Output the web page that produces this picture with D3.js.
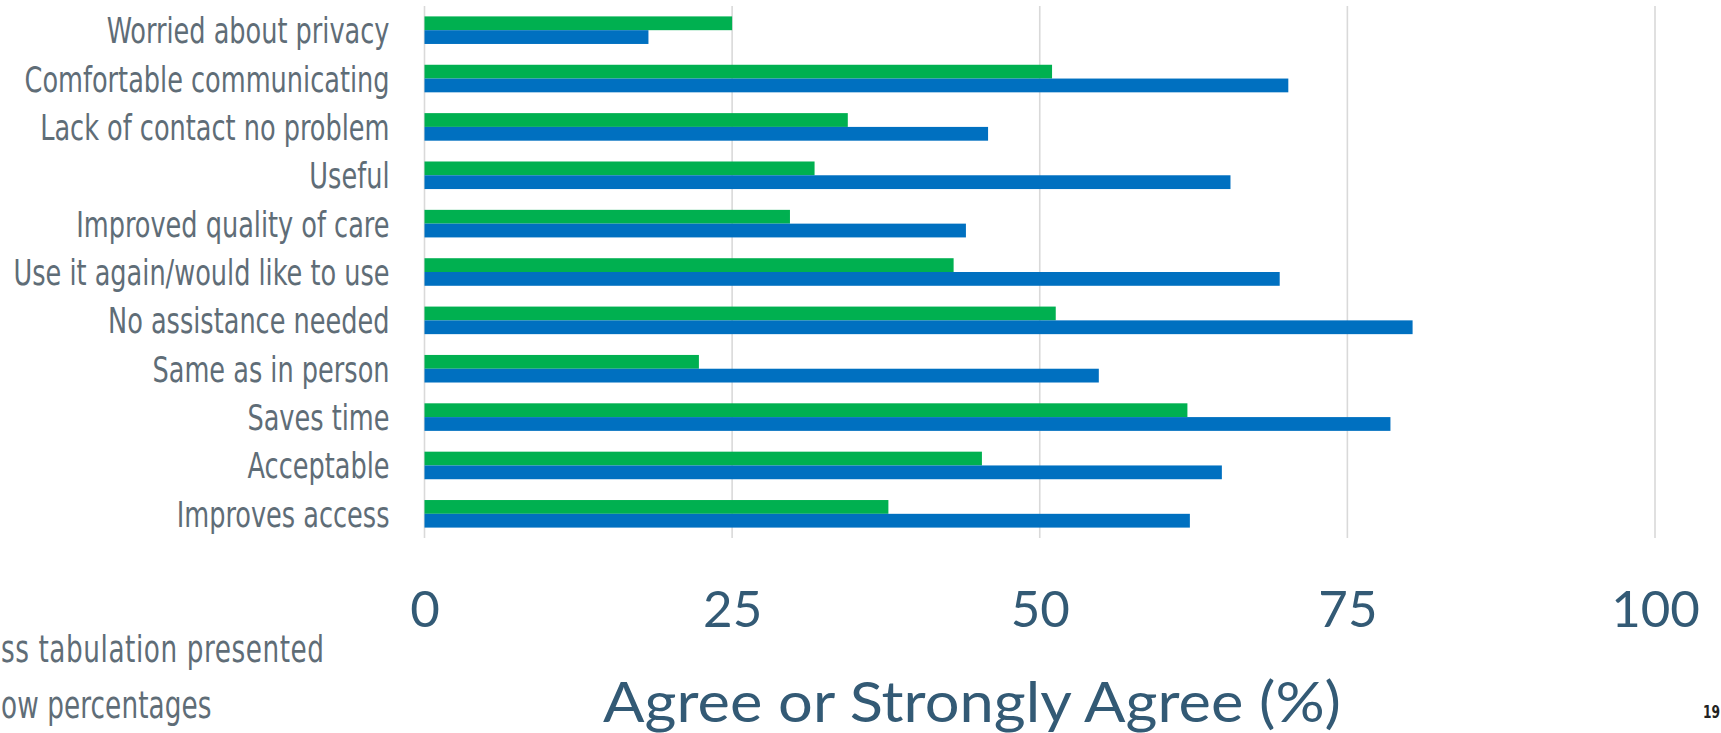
<!DOCTYPE html>
<html>
<head>
<meta charset="utf-8">
<script src="https://cdn.jsdelivr.net/npm/d3@7"></script>
<style>
  html, body { margin: 0; padding: 0; background: #ffffff; overflow: hidden; }
  svg { display: block; }
</style>
</head>
<body>
<svg id="chart" width="1721" height="733"></svg>
<script>
// ---- data ----
const categories = [
  "Worried about privacy",
  "Comfortable communicating",
  "Lack of contact no problem",
  "Useful",
  "Improved quality of care",
  "Use it again/would like to use",
  "No assistance needed",
  "Same as in person",
  "Saves time",
  "Acceptable",
  "Improves access"
];
const seriesNames = ["Group A", "Group B"];
const greenValues = [25, 51, 34.4, 31.7, 29.7, 43, 51.3, 22.3, 62, 45.3, 37.7];
const blueValues  = [18.2, 70.2, 45.8, 65.5, 44, 69.5, 80.3, 54.8, 78.5, 64.8, 62.2];
const tickValues = [0, 25, 50, 75, 100];
const axisTitle = "Agree or Strongly Agree (%)";
const noteLines = ["ss tabulation presented", "ow percentages"];
const pageNumber = "19";

// ---- layout ----
const svg = d3.select("#chart");
const plot = { left: 424.5, right: 1655, top: 6, bottom: 538 };
const colors = { [seriesNames[0]]: "#00b050", [seriesNames[1]]: "#0070c0" };
const labelFont = "'DejaVu Sans Condensed', 'DejaVu Sans', sans-serif";
const geoFont = "Lato, 'Noto Sans', sans-serif";
const labelColor = "#5f6d77";
const squeeze = 0.79;   // horizontal compression to mimic a condensed face

const x = d3.scaleLinear().domain([0, 100]).range([plot.left, plot.right]);
const y = d3.scaleBand().domain(categories).range([plot.top, plot.bottom])
  .paddingInner(0.43).paddingOuter(0.215);
const ySub = d3.scaleBand().domain(seriesNames).range([0, y.bandwidth()]);

const rows = categories.map((c, i) => ({
  cat: c,
  vals: [
    { s: seriesNames[0], v: greenValues[i] },
    { s: seriesNames[1], v: blueValues[i] }
  ]
}));

// gridlines (incl. zero line)
svg.append("g").selectAll("line").data(tickValues).join("line")
  .attr("x1", d => x(d)).attr("x2", d => x(d))
  .attr("y1", plot.top).attr("y2", plot.bottom)
  .attr("stroke", "#d9d9d9").attr("stroke-width", 1.6);

// bars
const g = svg.append("g").selectAll("g").data(rows).join("g")
  .attr("transform", d => `translate(0,${y(d.cat)})`);
g.selectAll("rect").data(d => d.vals).join("rect")
  .attr("x", x(0))
  .attr("y", d => ySub(d.s))
  .attr("width", d => x(d.v) - x(0))
  .attr("height", ySub.bandwidth())
  .attr("fill", d => colors[d.s]);

// category labels
const labelPad = 35;
const yAxis = d3.axisLeft(y).tickSize(0).tickPadding(labelPad);
const ya = svg.append("g").attr("transform", `translate(${plot.left},0)`).call(yAxis);
ya.select(".domain").remove();
ya.selectAll("text")
  .attr("font-family", labelFont)
  .attr("font-size", 36)
  .attr("fill", labelColor)
  .attr("dy", "0.36em")
  .attr("x", -labelPad / squeeze)
  .attr("transform", `scale(${squeeze},1)`);

// x tick labels
const xAxis = d3.axisBottom(x).tickValues(tickValues).tickSize(0).tickPadding(0);
const xa = svg.append("g").attr("transform", `translate(0,627)`).call(xAxis);
xa.select(".domain").remove();
xa.selectAll("text")
  .attr("font-family", geoFont)
  .attr("font-size", 51)
  .attr("fill", "#335a75")
  .attr("dy", 0);

// axis title
svg.append("text")
  .attr("x", 972).attr("y", 721.5)
  .attr("text-anchor", "middle")
  .attr("font-family", geoFont)
  .attr("font-size", 56)
  .attr("fill", "#335a75")
  .attr("textLength", 738)
  .attr("lengthAdjust", "spacingAndGlyphs")
  .text(axisTitle);

// note lines at the lower left
const notes = [
  { t: noteLines[0], xr: 324, yb: 662.5, w: 323 },
  { t: noteLines[1], xr: 211.5, yb: 718, w: 210.5 }
];
svg.append("g").selectAll("text").data(notes).join("text")
  .attr("x", d => (d.xr - d.w) / squeeze)
  .attr("y", d => d.yb)
  .attr("transform", `scale(${squeeze},1)`)
  .attr("text-anchor", "start")
  .attr("font-family", labelFont)
  .attr("font-size", 37)
  .attr("textLength", d => d.w / squeeze)
  .attr("lengthAdjust", "spacing")
  .attr("fill", labelColor)
  .text(d => d.t);

// page number
svg.append("text")
  .attr("x", 1720 / 0.8).attr("y", 718)
  .attr("transform", "scale(0.8,1)")
  .attr("text-anchor", "end")
  .attr("font-family", labelFont)
  .attr("font-weight", "bold")
  .attr("font-size", 17)
  .attr("fill", "#222222")
  .text(pageNumber);
</script>
</body>
</html>
